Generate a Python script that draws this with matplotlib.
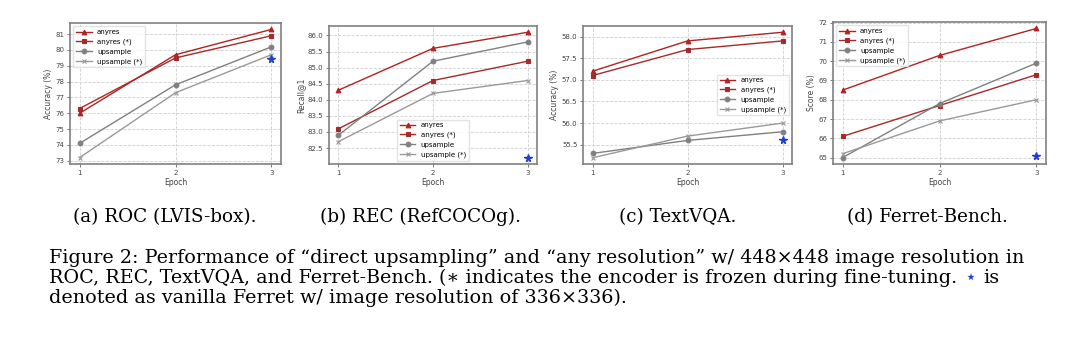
import matplotlib
matplotlib.use("Agg")
import matplotlib.pyplot as plt

epochs = [1, 2, 3]
series_names = ["anyres", "anyres (*)", "upsample", "upsample (*)"]

roc_anyres = [76.0, 79.7, 81.3]
roc_anyres_frozen = [76.3, 79.5, 80.9]
roc_upsample = [74.1, 77.8, 80.2]
roc_upsample_frozen = [73.2, 77.3, 79.7]
roc_vanilla = 79.4

rec_anyres = [84.3, 85.6, 86.1]
rec_anyres_frozen = [83.1, 84.6, 85.2]
rec_upsample = [82.9, 85.2, 85.8]
rec_upsample_frozen = [82.7, 84.2, 84.6]
rec_vanilla = 82.2

tvqa_anyres = [57.2, 57.9, 58.1]
tvqa_anyres_frozen = [57.1, 57.7, 57.9]
tvqa_upsample = [55.3, 55.6, 55.8]
tvqa_upsample_frozen = [55.2, 55.7, 56.0]
tvqa_vanilla = 55.6

ferret_anyres = [68.5, 70.3, 71.7]
ferret_anyres_frozen = [66.1, 67.7, 69.3]
ferret_upsample = [65.0, 67.8, 69.9]
ferret_upsample_frozen = [65.2, 66.9, 68.0]
ferret_vanilla = 65.1

subcaptions = ["(a) ROC (LVIS-box).", "(b) REC (RefCOCOg).", "(c) TextVQA.", "(d) Ferret-Bench."]
ylabels = ["Accuracy (%)", "Recall@1", "Accuracy (%)", "Score (%)"]

panels = [
    (roc_anyres, roc_anyres_frozen, roc_upsample, roc_upsample_frozen, roc_vanilla),
    (rec_anyres, rec_anyres_frozen, rec_upsample, rec_upsample_frozen, rec_vanilla),
    (tvqa_anyres, tvqa_anyres_frozen, tvqa_upsample, tvqa_upsample_frozen, tvqa_vanilla),
    (ferret_anyres, ferret_anyres_frozen, ferret_upsample, ferret_upsample_frozen, ferret_vanilla),
]

styles = [
    dict(color="#b22222", marker="^"),
    dict(color="#a52a2a", marker="s"),
    dict(color="#808080", marker="o"),
    dict(color="#999999", marker="x"),
]

# axes boxes in pixels: left, top, right, bottom
boxes = [(70, 23, 281, 164), (329, 26, 537, 164), (583, 26, 792, 164), (833, 22, 1046, 164)]
legend_locs = ["upper left", "lower center", "center right", "upper left"]
legend_anchor = [None, (0.5, 0.0), None, None]
caption_x = [165, 421, 678, 927]

W, H = 1080, 337
fig = plt.figure(figsize=(W / 100, H / 100), dpi=100)
fig.patch.set_facecolor("white")

serif = ["DejaVu Serif", "DejaVu Sans"]

for i, (box, data) in enumerate(zip(boxes, panels)):
    l, t, r, b = box
    ax = fig.add_axes([l / W, (H - b) / H, (r - l) / W, (b - t) / H])
    for vals, name, st in zip(data[:4], series_names, styles):
        ax.plot(epochs, vals, label=name, linewidth=1.0, markersize=3.4,
                markeredgewidth=0.8, **st)
    ax.plot([3], [data[4]], marker="*", color="#1f3fd0", markersize=5.5, linestyle="none")
    ax.set_xticks(epochs)
    ax.grid(True, linestyle="--", color="#d0d0d0", linewidth=0.6)
    ax.tick_params(labelsize=5, colors="#444444", length=2, width=0.5, pad=2)
    ax.set_xlabel("Epoch", fontsize=5.5, color="#444444", labelpad=1.5)
    ax.set_ylabel(ylabels[i], fontsize=5.5, color="#444444", labelpad=2)
    for sp in ax.spines.values():
        sp.set_color("#808080")
        sp.set_linewidth(1.2)
    kw = dict(loc=legend_locs[i], fontsize=5, frameon=True, fancybox=False,
              edgecolor="#dddddd", handlelength=2.2, borderpad=0.4, labelspacing=0.5)
    if legend_anchor[i] is not None:
        kw["bbox_to_anchor"] = legend_anchor[i]
    ax.legend(**kw)
    fig.text(caption_x[i] / W, 1 - 222 / H, subcaptions[i], ha="center", va="baseline",
             fontsize=13.2, family=serif)

cap_size = 13.8
x0 = 49
fig.text(x0 / W, 1 - 263 / H,
         "Figure 2: Performance of \u201cdirect upsampling\u201d and \u201cany resolution\u201d w/ 448\u00d7448 image resolution in",
         ha="left", va="baseline", fontsize=cap_size, family=serif)
line2 = fig.text(x0 / W, 1 - 283 / H,
                 "ROC, REC, TextVQA, and Ferret-Bench. (\u2217 indicates the encoder is frozen during fine-tuning.",
                 ha="left", va="baseline", fontsize=cap_size, family=serif)
fig.canvas.draw()
bb = line2.get_window_extent()
star = fig.text((bb.x1 + 8) / W, 1 - 283 / H, "\u22c6", ha="left", va="baseline", fontsize=cap_size,
                color="#1f3fd0", family="DejaVu Sans")
fig.canvas.draw()
sb = star.get_window_extent()
fig.text((sb.x1 + 6) / W, 1 - 283 / H, "is", ha="left", va="baseline", fontsize=cap_size, family=serif)
fig.text(x0 / W, 1 - 303 / H, "denoted as vanilla Ferret w/ image resolution of 336\u00d7336).",
         ha="left", va="baseline", fontsize=cap_size, family=serif)

fig.savefig("out.png", dpi=100, facecolor="white")
